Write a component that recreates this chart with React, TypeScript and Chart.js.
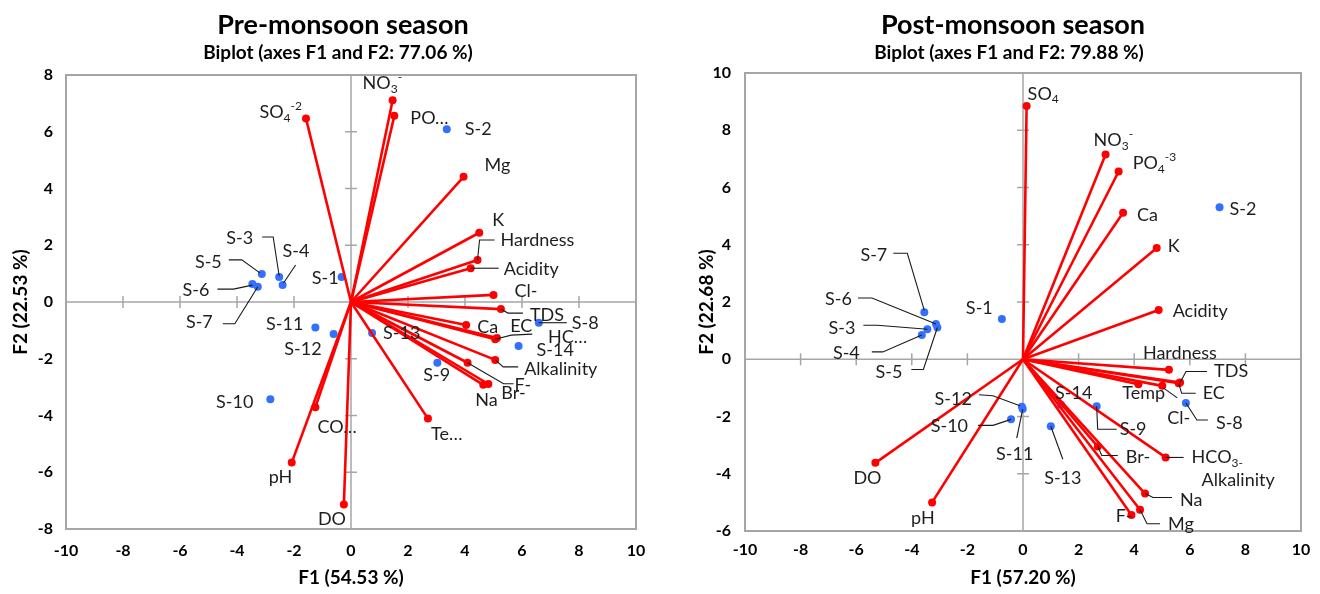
import React, { useEffect, useRef } from 'react';
import { Chart, registerables } from 'chart.js';
Chart.register(...registerables);

// ---------------- Pre-monsoon data ----------------
const preVarNames = ['NO_{3}^{-}', 'PO…', 'Mg', 'K', 'Hardness', 'Acidity', 'Cl-', 'TDS', 'EC', 'HC…', 'Ca', 'Alkalinity', 'F-', 'Na', 'Br-', 'Te…', 'DO', 'pH', 'CO…', 'SO_{4}^{-2}'];
const preVarF1 = [1.46, 1.52, 3.95, 4.50, 4.44, 4.20, 5.00, 5.26, 5.06, 5.12, 4.04, 5.06, 4.09, 4.64, 4.82, 2.70, -0.25, -2.08, -1.25, -1.58];
const preVarF2 = [7.11, 6.56, 4.41, 2.44, 1.48, 1.19, 0.25, -0.25, -1.31, -1.27, -0.81, -2.04, -2.14, -2.92, -2.89, -4.11, -7.14, -5.66, -3.71, 6.47];
const preSampleNames = ['S-1', 'S-2', 'S-3', 'S-4', 'S-5', 'S-6', 'S-7', 'S-8', 'S-9', 'S-10', 'S-11', 'S-12', 'S-13', 'S-14'];
const preSampleF1 = [-0.33, 3.36, -2.52, -2.40, -3.13, -3.46, -3.27, 6.59, 3.03, -2.83, -1.25, -0.61, 0.74, 5.88];
const preSampleF2 = [0.88, 6.09, 0.88, 0.60, 0.99, 0.63, 0.54, -0.73, -2.14, -3.43, -0.90, -1.13, -1.09, -1.55];
const preXTicks = [-10, -8, -6, -4, -2, 0, 2, 4, 6, 8, 10];
const preYTicks = [-8, -6, -4, -2, 0, 2, 4, 6, 8];

// ---------------- Post-monsoon data ----------------
const postVarNames = ['SO_{4}', 'NO_{3}^{-}', 'PO_{4}^{-3}', 'Ca', 'K', 'Acidity', 'Hardness', 'TDS', 'EC', 'Temp', 'Cl-', 'HCO_{3-}\nAlkalinity', 'Br-', 'Na', 'Mg', 'F-', 'DO', 'pH'];
const postVarF1 = [0.13, 2.97, 3.44, 3.60, 4.81, 4.88, 5.25, 5.65, 5.60, 4.15, 5.01, 5.13, 2.69, 4.39, 4.21, 3.90, -5.31, -3.27];
const postVarF2 = [8.85, 7.15, 6.56, 5.12, 3.89, 1.72, -0.37, -0.81, -0.84, -0.87, -0.93, -3.43, -3.05, -4.69, -5.26, -5.44, -3.62, -5.00];
const postSampleNames = ['S-1', 'S-2', 'S-3', 'S-4', 'S-5', 'S-6', 'S-7', 'S-8', 'S-9', 'S-10', 'S-11', 'S-12', 'S-13', 'S-14'];
const postSampleF1 = [-0.76, 7.07, -3.44, -3.64, -3.08, -3.13, -3.55, 5.86, 2.65, -0.43, -0.01, -0.04, 1.00, 1.37];
const postSampleF2 = [1.41, 5.31, 1.05, 0.85, 1.11, 1.23, 1.64, -1.53, -1.64, -2.10, -1.74, -1.66, -2.34, -1.59];
const postXTicks = [-10, -8, -6, -4, -2, 0, 2, 4, 6, 8, 10];
const postYTicks = [-6, -4, -2, 0, 2, 4, 6, 8, 10];

// ---------------- label layout (pixel offsets from the mark) ----------------
type LL = { dx: number; dy: number; a?: 'l' | 'r' | 'c'; ld?: number[][]; l2dx?: number; l2dy?: number };
const preVarLayout: LL[] = [
  { dx: -30, dy: -17 },
  { dx: 16, dy: 2 },
  { dx: 21, dy: -12 },
  { dx: 13, dy: -13 },
  { dx: 23, dy: -20, ld: [[0, 0], [2, -20], [17, -20]] },
  { dx: 33, dy: 1, ld: [[0, 0], [28, 0]] },
  { dx: 21, dy: -4 },
  { dx: 29, dy: 6, ld: [[0, 0], [7, 4], [22, 4]] },
  { dx: 15, dy: -13, ld: [[0, 0], [16, -4], [37, -5]] },
  { dx: 51, dy: -1 },
  { dx: 11, dy: 2 },
  { dx: 29, dy: 9, ld: [[0, 0], [8, 7], [23, 7]] },
  { dx: 47, dy: 22, ld: [[0, 0], [36, 21], [46, 21]] },
  { dx: -8, dy: 15 },
  { dx: 13, dy: 9 },
  { dx: 3, dy: 16 },
  { dx: -26, dy: 15 },
  { dx: -23, dy: 15 },
  { dx: 2, dy: 20 },
  { dx: -4, dy: -6, a: 'r' },
];
const preSampleLayout: LL[] = [
  { dx: -3, dy: 1, a: 'r' },
  { dx: 18, dy: 0 },
  { dx: -26, dy: -39, a: 'r', ld: [[-17, -40], [-6, -40], [0, -1]] },
  { dx: 0, dy: -34, ld: [[13, -20], [1, -2]] },
  { dx: -40, dy: -12, a: 'r', ld: [[-33, -14], [-20, -14], [-2, -1]] },
  { dx: -43, dy: 6, a: 'r', ld: [[-35, 5], [-19, 5], [0, 1]] },
  { dx: -45, dy: 36, a: 'r', ld: [[-35, 37], [-23, 37], [0, 0]] },
  { dx: 33, dy: 0, ld: [[0, 0], [28, 0]] },
  { dx: -14, dy: 12 },
  { dx: -17, dy: 3, a: 'r' },
  { dx: -12, dy: -3, a: 'r' },
  { dx: -12, dy: 15, a: 'r' },
  { dx: 11, dy: 0 },
  { dx: 18, dy: 4 },
];
const postVarLayout: LL[] = [
  { dx: 1, dy: -12 },
  { dx: -12, dy: -14 },
  { dx: 14, dy: -8 },
  { dx: 14, dy: 2 },
  { dx: 11, dy: -2 },
  { dx: 14, dy: 1 },
  { dx: -26, dy: -17 },
  { dx: 34, dy: -11, ld: [[0, 0], [6, -11], [27, -11]] },
  { dx: 24, dy: 10, ld: [[0, 0], [3, 10], [17, 10]] },
  { dx: -16, dy: 9 },
  { dx: 5, dy: 32, ld: [[1, 2], [15, 12]] },
  { dx: 26, dy: 0, ld: [[0, 0], [18, 0]], l2dx: 10, l2dy: 23 },
  { dx: 28, dy: 11, ld: [[0, 0], [4, 9], [20, 9]] },
  { dx: 35, dy: 7, ld: [[0, 0], [8, 4], [27, 4]] },
  { dx: 28, dy: 14, ld: [[0, 0], [7, 14], [20, 14]] },
  { dx: 1, dy: 1, a: 'r' },
  { dx: -22, dy: 15 },
  { dx: -21, dy: 16 },
];
const postSampleLayout: LL[] = [
  { dx: -36, dy: -11 },
  { dx: 10, dy: 2 },
  { dx: -72, dy: -1, a: 'r', ld: [[-64, -4], [-50, -4], [0, 0]] },
  { dx: -62, dy: 18, a: 'r', ld: [[-50, 17], [-39, 17], [0, 0]] },
  { dx: -35, dy: 45, a: 'r', ld: [[-26, 42], [-14, 42], [0, 0]] },
  { dx: -84, dy: -25, a: 'r', ld: [[-78, -26], [-64, -26], [0, 0]] },
  { dx: -37, dy: -57, a: 'r', ld: [[-31, -59], [-17, -59], [0, -2]] },
  { dx: 30, dy: 20, ld: [[0, 0], [11, 17], [22, 17]] },
  { dx: 23, dy: 23, ld: [[0, 0], [1, 23], [20, 23]] },
  { dx: -43, dy: 7, a: 'r', ld: [[-33, 6], [-18, 6], [0, 0]] },
  { dx: -8, dy: 45, a: 'c', ld: [[0, 0], [-6, 29]] },
  { dx: -50, dy: -8, a: 'r', ld: [[-43, -12], [-29, -11], [-2, -1]] },
  { dx: 12, dy: 52, a: 'c', ld: [[0, 0], [12, 33]] },
  { dx: -6, dy: -12 },
];

const FONT = 'Lato, "Open Sans", sans-serif';
const RED = '#FF0000';
const BLUE = '#3370FF';
const AXIS_GRAY = '#A6A6A6';
const LABEL_SIZE = 18;

function parseRich(s: string) {
  const parts: { t: string; k: 'n' | 'sub' | 'sup' }[] = [];
  const re = /_\{([^}]*)\}|\^\{([^}]*)\}|([^_^]+)/g;
  let m: RegExpExecArray | null;
  while ((m = re.exec(s))) {
    if (m[1] !== undefined) parts.push({ t: m[1], k: 'sub' });
    else if (m[2] !== undefined) parts.push({ t: m[2], k: 'sup' });
    else parts.push({ t: m[3], k: 'n' });
  }
  return parts;
}

function drawRich(ctx: CanvasRenderingContext2D, s: string, x: number, y: number, align: string, size: number) {
  const parts = parseRich(s);
  const small = Math.round(size * 0.66);
  const widths = parts.map((p) => {
    ctx.font = `${p.k === 'n' ? size : small}px ${FONT}`;
    return ctx.measureText(p.t).width;
  });
  const total = widths.reduce((a, b) => a + b, 0);
  let cx = align === 'r' ? x - total : align === 'c' ? x - total / 2 : x;
  ctx.textAlign = 'left';
  ctx.textBaseline = 'middle';
  parts.forEach((p, i) => {
    ctx.font = `${p.k === 'n' ? size : small}px ${FONT}`;
    const yy = p.k === 'sub' ? y + size * 0.3 : p.k === 'sup' ? y - size * 0.35 : y;
    ctx.fillText(p.t, cx, yy);
    cx += widths[i];
  });
}

interface Cfg {
  left: number;
  title: string;
  titleX: number;
  subtitle: string;
  subtitleX: number;
  xTitle: string;
  yTitle: string;
  xTicks: number[];
  yTicks: number[];
  varNames: string[];
  varF1: number[];
  varF2: number[];
  varLayout: LL[];
  sampleNames: string[];
  sampleF1: number[];
  sampleF2: number[];
  sampleLayout: LL[];
  padTop: number;
  padRight: number;
  yWidth: number;
  xHeight: number;
  yTitlePad: number;
  xTickPad: number;
  yTickPad: number;
}

function Biplot({ cfg }: { cfg: Cfg }) {
  const ref = useRef<HTMLCanvasElement>(null);
  useEffect(() => {
    if (!ref.current) return;
    const vectorSets = cfg.varNames.map((n, i) => ({
      type: 'scatter' as const,
      label: n,
      data: [{ x: 0, y: 0 }, { x: cfg.varF1[i], y: cfg.varF2[i] }],
      showLine: true,
      borderColor: RED,
      backgroundColor: RED,
      borderWidth: 2.6,
      pointRadius: [0, 4],
      pointHoverRadius: [0, 4],
      pointBorderWidth: 0,
    }));
    const sampleSet = {
      type: 'scatter' as const,
      label: 'Observations',
      data: cfg.sampleNames.map((n, i) => ({ x: cfg.sampleF1[i], y: cfg.sampleF2[i] })),
      showLine: false,
      backgroundColor: BLUE,
      borderColor: BLUE,
      pointRadius: 4,
      pointBorderWidth: 0,
    };
    const xMin = cfg.xTicks[0];
    const xMax = cfg.xTicks[cfg.xTicks.length - 1];
    const yMin = cfg.yTicks[0];
    const yMax = cfg.yTicks[cfg.yTicks.length - 1];

    const frame = {
      id: 'frame',
      beforeDatasetsDraw(chart: any) {
        const { ctx, chartArea: a, scales } = chart;
        const xs = scales.x;
        const ys = scales.y;
        ctx.save();
        ctx.strokeStyle = AXIS_GRAY;
        ctx.lineWidth = 1.5;
        const x0 = xs.getPixelForValue(0);
        const y0 = ys.getPixelForValue(0);
        ctx.beginPath();
        ctx.moveTo(a.left, y0);
        ctx.lineTo(a.right, y0);
        ctx.moveTo(x0, a.top);
        ctx.lineTo(x0, a.bottom);
        cfg.xTicks.forEach((v) => {
          if (v === 0 || v === xMin || v === xMax) return;
          const px = xs.getPixelForValue(v);
          ctx.moveTo(px, y0 - 6);
          ctx.lineTo(px, y0 + 6);
        });
        cfg.yTicks.forEach((v) => {
          if (v === 0 || v === yMin || v === yMax) return;
          const py = ys.getPixelForValue(v);
          ctx.moveTo(x0 - 6, py);
          ctx.lineTo(x0 + 6, py);
        });
        ctx.stroke();
        ctx.lineWidth = 2;
        ctx.strokeRect(a.left, a.top, a.right - a.left, a.bottom - a.top);
        ctx.restore();
      },
      afterDatasetsDraw(chart: any) {
        const { ctx, scales } = chart;
        const xs = scales.x;
        const ys = scales.y;
        ctx.save();
        const drawSet = (names: string[], f1: number[], f2: number[], lay: LL[]) => {
          names.forEach((n, i) => {
            const px = xs.getPixelForValue(f1[i]);
            const py = ys.getPixelForValue(f2[i]);
            const l = lay[i];
            if (l.ld) {
              ctx.strokeStyle = '#1a1a1a';
              ctx.lineWidth = 1.1;
              ctx.beginPath();
              l.ld.forEach((p, k) => {
                if (k === 0) ctx.moveTo(px + p[0], py + p[1]);
                else ctx.lineTo(px + p[0], py + p[1]);
              });
              ctx.stroke();
            }
            ctx.fillStyle = '#1e1e1e';
            const lines = n.split('\n');
            drawRich(ctx, lines[0], px + l.dx, py + l.dy, l.a || 'l', LABEL_SIZE);
            if (lines[1]) {
              drawRich(ctx, lines[1], px + l.dx + (l.l2dx || 0), py + l.dy + (l.l2dy || 20), l.a || 'l', LABEL_SIZE);
            }
          });
        };
        drawSet(cfg.varNames, cfg.varF1, cfg.varF2, cfg.varLayout);
        drawSet(cfg.sampleNames, cfg.sampleF1, cfg.sampleF2, cfg.sampleLayout);
        ctx.restore();
      },
      afterDraw(chart: any) {
        const { ctx } = chart;
        ctx.save();
        ctx.fillStyle = '#000';
        ctx.textAlign = 'center';
        ctx.textBaseline = 'alphabetic';
        ctx.font = `bold 27px ${FONT}`;
        ctx.fillText(cfg.title, cfg.titleX, 34);
        ctx.font = `bold 19px ${FONT}`;
        ctx.fillText(cfg.subtitle, cfg.subtitleX, 59);
        ctx.restore();
      },
    };

    const tickFont = { family: FONT, size: 16, weight: 'bold' as const };
    const titleFont = { family: FONT, size: 19, weight: 'bold' as const };
    const chart = new Chart(ref.current, {
      type: 'scatter',
      data: { datasets: [...vectorSets, sampleSet] as any },
      options: {
        responsive: false,
        animation: false,
        devicePixelRatio: 1,
        layout: { padding: { top: cfg.padTop, right: cfg.padRight, left: 0, bottom: 0 } },
        plugins: { legend: { display: false }, tooltip: { enabled: false }, title: { display: false } },
        events: [],
        scales: {
          x: {
            type: 'linear',
            min: xMin,
            max: xMax,
            afterBuildTicks: (s: any) => { s.ticks = cfg.xTicks.map((v) => ({ value: v })); },
            afterFit: (s: any) => { s.height = cfg.xHeight; },
            ticks: { font: tickFont, color: '#000', padding: cfg.xTickPad, maxRotation: 0 },
            grid: { display: false, drawTicks: false },
            border: { display: false },
            title: { display: true, text: cfg.xTitle, font: titleFont, color: '#000', padding: { top: 0, bottom: 5 } },
          },
          y: {
            type: 'linear',
            min: yMin,
            max: yMax,
            afterBuildTicks: (s: any) => { s.ticks = cfg.yTicks.map((v) => ({ value: v })); },
            afterFit: (s: any) => { s.width = cfg.yWidth; },
            ticks: { font: tickFont, color: '#000', padding: cfg.yTickPad },
            grid: { display: false, drawTicks: false },
            border: { display: false },
            title: { display: true, text: cfg.yTitle, font: titleFont, color: '#000', padding: { top: cfg.yTitlePad, bottom: 0 } },
          },
        },
      } as any,
      plugins: [frame],
    });
    return () => chart.destroy();
  }, []);
  return (
    <canvas
      ref={ref}
      width={660}
      height={594}
      style={{ position: 'absolute', left: cfg.left, top: 0, width: 660, height: 594 }}
    />
  );
}

const preCfg: Cfg = {
  left: 0,
  title: 'Pre-monsoon season',
  titleX: 343,
  subtitle: 'Biplot (axes F1 and F2: 77.06 %)',
  subtitleX: 338,
  xTitle: 'F1 (54.53 %)',
  yTitle: 'F2 (22.53 %)',
  xTicks: preXTicks,
  yTicks: preYTicks,
  varNames: preVarNames,
  varF1: preVarF1,
  varF2: preVarF2,
  varLayout: preVarLayout,
  sampleNames: preSampleNames,
  sampleF1: preSampleF1,
  sampleF2: preSampleF2,
  sampleLayout: preSampleLayout,
  padTop: 75,
  padRight: 24,
  yWidth: 66,
  xHeight: 65,
  yTitlePad: 9,
  xTickPad: 12,
  yTickPad: 13,
};

const postCfg: Cfg = {
  left: 660,
  title: 'Post-monsoon season',
  titleX: 353,
  subtitle: 'Biplot (axes F1 and F2: 79.88 %)',
  subtitleX: 349,
  xTitle: 'F1 (57.20 %)',
  yTitle: 'F2 (22.68 %)',
  xTicks: postXTicks,
  yTicks: postYTicks,
  varNames: postVarNames,
  varF1: postVarF1,
  varF2: postVarF2,
  varLayout: postVarLayout,
  sampleNames: postSampleNames,
  sampleF1: postSampleF1,
  sampleF2: postSampleF2,
  sampleLayout: postSampleLayout,
  padTop: 73,
  padRight: 19,
  yWidth: 85,
  xHeight: 63,
  yTitlePad: 35,
  xTickPad: 9,
  yTickPad: 14,
};

export default function App() {
  return (
    <div style={{ position: 'absolute', left: 0, top: 0, width: 1320, height: 594, background: '#fff', overflow: 'hidden' }}>
      <Biplot cfg={preCfg} />
      <Biplot cfg={postCfg} />
    </div>
  );
}
